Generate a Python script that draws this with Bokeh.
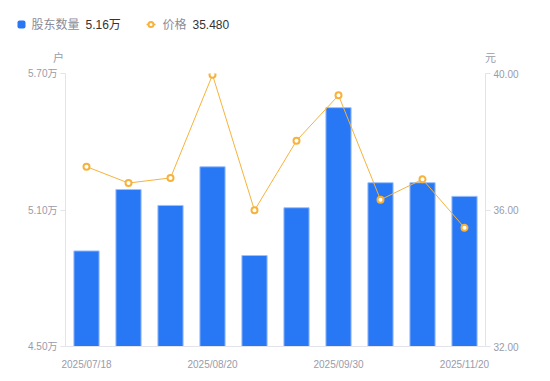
from bokeh.plotting import figure
from bokeh.models import (Range1d, LinearAxis, FixedTicker, PrintfTickFormatter,
                          ColumnDataSource)
from bokeh.layouts import column
from bokeh.core.properties import value
from bokeh.embed import file_html
from bokeh.resources import INLINE

# ---- data ----
dates = ["2025/07/18", "2025/07/31", "2025/08/10", "2025/08/20", "2025/08/31",
         "2025/09/10", "2025/09/30", "2025/10/20", "2025/10/31", "2025/11/20"]
holders = [4.92, 5.19, 5.12, 5.29, 4.90, 5.11, 5.55, 5.22, 5.22, 5.16]   # 万户
price = [37.27, 36.79, 36.94, 39.96, 35.99, 38.03, 39.36, 36.30, 36.90, 35.48]  # 元
shown_dates = ["2025/07/18", "2025/08/20", "2025/09/30", "2025/11/20"]
left_ticks = [4.50, 5.10, 5.70]
right_ticks = [32.0, 36.0, 40.0]
series_names = ["股东数量", "价格"]
unit_names = ["户", "元"]

FONT = "Liberation Sans, Noto Sans CJK SC"
BLUE = "#2877F5"
BAR_EDGE = "#9CC0FA"
ORANGE = "#F7B23B"
AXIS_GRAY = "#E3E4EA"
LABEL_GRAY = "#9A9BAA"

W = 542
TOP_H = 64

# ---- header strip: legend + unit titles ----
leg = figure(width=W, height=TOP_H, min_border=0,
             x_range=Range1d(0, W), y_range=Range1d(TOP_H, 0),
             output_backend="svg", toolbar_location=None,
             x_axis_location=None, y_axis_location=None)
leg.outline_line_color = None
leg.grid.visible = False
leg.background_fill_alpha = 0
leg.border_fill_alpha = 0

leg.quad(left=[17], right=[25], top=[20], bottom=[28], fill_color=BLUE,
         line_color=None, border_radius=2)
leg.line(x=[146, 155], y=[24, 24], line_color=ORANGE, line_width=1.5)
leg.scatter(x=[150.5], y=[24], size=5, marker="circle", fill_color="white",
            line_color=ORANGE, line_width=2)
leg.text(x=[31, 162], y=[24, 24], text=series_names,
         text_font=value(FONT), text_font_size=value("12px"),
         text_color="#8A8D99", text_baseline="middle", text_align="left")
leg.text(x=[85, 192], y=[24, 24],
         text=[f"{holders[-1]:.2f}万", f"{price[-1]:.3f}"],
         text_font=value(FONT), text_font_size=value("12px"),
         text_color="#333333", text_baseline="middle", text_align="left")
leg.text(x=[58, 490], y=[57, 57], text=unit_names,
         text_font=value(FONT), text_font_size=value("11px"),
         text_color=LABEL_GRAY, text_baseline="middle", text_align="center")

# ---- main chart ----
idx = list(range(len(dates)))
p = figure(width=W, height=373 - TOP_H,
           min_border_left=65, min_border_right=57,
           min_border_top=73 - TOP_H, min_border_bottom=27,
           x_range=Range1d(-0.5, len(dates) - 0.5), y_range=Range1d(4.5, 5.7),
           output_backend="svg", toolbar_location=None)
p.outline_line_color = None
p.grid.visible = False
p.extra_y_ranges = {"price": Range1d(32, 40)}

for fig in (leg, p):
    try:
        fig.frame_align = False
    except Exception:
        pass

src = ColumnDataSource(dict(x=idx, date=dates, holders=holders, price=price))
p.vbar(x="x", top="holders", bottom=4.5, width=0.6, source=src,
       fill_color=BLUE, line_color=BAR_EDGE, line_width=1)
p.line(x="x", y="price", source=src, y_range_name="price",
       line_color=ORANGE, line_width=1)
p.scatter(x="x", y="price", source=src, y_range_name="price", size=6,
          marker="circle", fill_color="white", line_color=ORANGE, line_width=2)

# x axis
xa = p.xaxis[0]
xa.ticker = FixedTicker(ticks=[dates.index(d) for d in shown_dates])
xa.major_label_overrides = {dates.index(d): d for d in shown_dates}
xa.axis_line_color = AXIS_GRAY
xa.major_tick_line_color = None
xa.minor_tick_line_color = None
xa.major_label_standoff = 6
xa.major_label_text_font = FONT
xa.major_label_text_font_size = "10px"
xa.major_label_text_color = LABEL_GRAY

# left axis
ya = p.yaxis[0]
ya.ticker = FixedTicker(ticks=left_ticks)
ya.formatter = PrintfTickFormatter(format="%.2f万")
ya.axis_line_color = AXIS_GRAY
ya.major_tick_line_color = AXIS_GRAY
ya.major_tick_out = 5
ya.major_tick_in = 0
ya.minor_tick_line_color = None
ya.major_label_standoff = 3
ya.major_label_text_font = FONT
ya.major_label_text_font_size = "10px"
ya.major_label_text_color = LABEL_GRAY

# right axis
ra = LinearAxis(y_range_name="price", ticker=FixedTicker(ticks=right_ticks),
                formatter=PrintfTickFormatter(format="%.2f"))
ra.axis_line_color = AXIS_GRAY
ra.major_tick_line_color = AXIS_GRAY
ra.major_tick_out = 5
ra.major_tick_in = 0
ra.minor_tick_line_color = None
ra.major_label_standoff = 3
ra.major_label_text_font = FONT
ra.major_label_text_font_size = "10px"
ra.major_label_text_color = LABEL_GRAY
p.add_layout(ra, "right")

layout = column(leg, p, spacing=0)
open("out.html", "w").write(file_html(layout, INLINE))
